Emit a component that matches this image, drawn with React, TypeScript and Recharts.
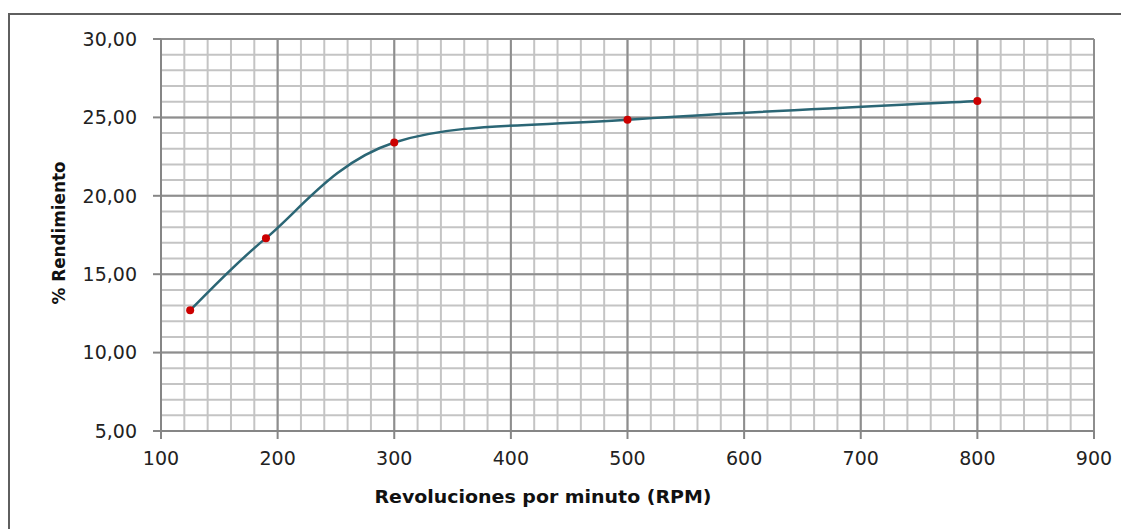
import React from 'react';
import { LineChart, Line, XAxis, YAxis, CartesianGrid } from 'recharts';

// Measured points (RPM vs % rendimiento)
const rpm = [125, 190, 300, 500, 800];
const rendimiento = [12.7, 17.3, 23.4, 24.85, 26.05];

const xTicks = [100, 200, 300, 400, 500, 600, 700, 800, 900];
const yTicks = [5, 10, 15, 20, 25, 30];

// minor grid every 20 rpm and every 1 %
const xMinor = Array.from({ length: 41 }, (_, i) => 100 + i * 20);
const yMinor = Array.from({ length: 26 }, (_, i) => 5 + i);

const chartData = rpm.map((r, i) => ({ rpm: r, value: rendimiento[i] }));

const FONT = '"DejaVu Sans", sans-serif';

// Excel-style smoothed line (Catmull-Rom like bezier, 1/6 tangents)
const excelSmooth = (context: any) => {
  let xs: number[] = [];
  let ys: number[] = [];
  return {
    areaStart() {},
    areaEnd() {},
    lineStart() {
      xs = [];
      ys = [];
    },
    point(x: number, y: number) {
      xs.push(+x);
      ys.push(+y);
    },
    lineEnd() {
      const n = xs.length;
      if (!n) return;
      context.moveTo(xs[0], ys[0]);
      for (let i = 0; i < n - 1; i++) {
        const p = Math.max(i - 1, 0);
        const q = Math.min(i + 2, n - 1);
        context.bezierCurveTo(
          xs[i] + (xs[i + 1] - xs[p]) / 6,
          ys[i] + (ys[i + 1] - ys[p]) / 6,
          xs[i + 1] - (xs[q] - xs[i]) / 6,
          ys[i + 1] - (ys[q] - ys[i]) / 6,
          xs[i + 1],
          ys[i + 1]
        );
      }
    },
  };
};

const fmt = (v: number) => v.toFixed(2).replace('.', ',');

export default function App() {
  return (
    <div style={{ position: 'relative', width: 1121, height: 521, overflow: 'hidden' }}>
      <div
        style={{
          position: 'absolute',
          left: 0,
          top: 5,
          width: 1300,
          height: 700,
          borderTop: '2px solid #5f5f5f',
          borderLeft: '2px solid #5f5f5f',
        }}
      />
      <LineChart
        width={1121}
        height={521}
        data={chartData}
        margin={{ top: 31, right: 35, bottom: 68, left: 53 }}
        style={{ position: 'absolute', left: 0, top: 0 }}
      >
        <XAxis
          xAxisId="minor"
          dataKey="rpm"
          type="number"
          domain={[100, 900]}
          ticks={xMinor}
          interval={0}
          hide
        />
        <YAxis
          yAxisId="minor"
          dataKey="value"
          type="number"
          domain={[5, 30]}
          ticks={yMinor}
          interval={0}
          allowDataOverflow
          hide
        />
        <CartesianGrid xAxisId="minor" yAxisId="minor" stroke="#c4c4c4" strokeWidth={2} />
        <CartesianGrid stroke="#8e8e8e" strokeWidth={2} />
        <XAxis
          dataKey="rpm"
          type="number"
          domain={[100, 900]}
          ticks={xTicks}
          interval={0}
          height={30}
          tickSize={8}
          tickMargin={13}
          stroke="#868686"
          strokeWidth={2}
          tick={{ fill: '#222', fontSize: 19, fontFamily: FONT }}
          label={{
            content: () => (
              <text
                x={535}
                y={495}
                textAnchor="middle"
                fontFamily={FONT}
                fontWeight="bold"
                fontSize={17}
                fill="#111"
                textLength={337}
                lengthAdjust="spacingAndGlyphs"
              >
                Revoluciones por minuto (RPM)
              </text>
            ),
          }}
        />
        <YAxis
          type="number"
          domain={[5, 30]}
          ticks={yTicks}
          interval={0}
          width={100}
          tickSize={8}
          tickMargin={16}
          tickFormatter={fmt}
          stroke="#868686"
          strokeWidth={2}
          tick={{ fill: '#222', fontSize: 19, fontFamily: FONT }}
          label={{
            content: () => (
              <text
                x={57}
                y={225}
                transform="rotate(-90, 57, 225)"
                textAnchor="middle"
                fontFamily={FONT}
                fontWeight="bold"
                fontSize={17}
                fill="#111"
                textLength={143}
                lengthAdjust="spacingAndGlyphs"
              >
                % Rendimiento
              </text>
            ),
          }}
        />
        <Line
          dataKey="value"
          type={excelSmooth as any}
          stroke="#2b6675"
          strokeWidth={2.5}
          dot={{ r: 4, fill: '#cc0000', stroke: 'none' }}
          activeDot={false}
          isAnimationActive={false}
        />
      </LineChart>
    </div>
  );
}
